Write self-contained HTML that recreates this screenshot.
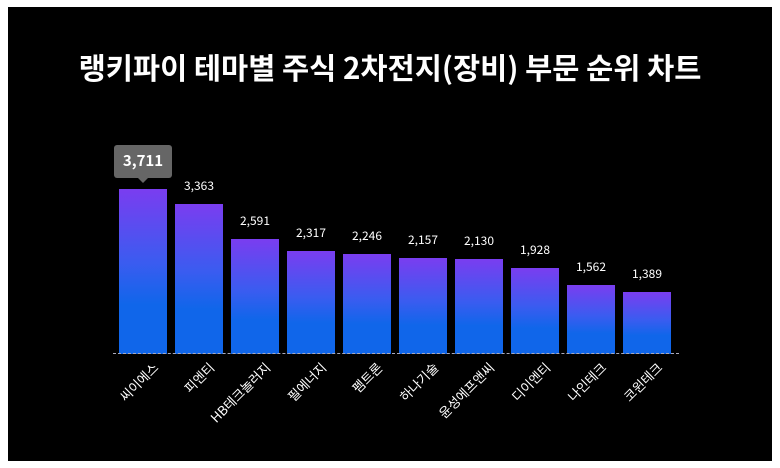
<!DOCTYPE html>
<html><head><meta charset="utf-8"><style>
body{margin:0;background:#fff;width:780px;height:468px;position:relative;overflow:hidden;font-family:"Noto Sans CJK KR","Liberation Sans",sans-serif}
#bg{position:absolute;left:8px;top:7px;width:764px;height:454px;background:#000}
.t{position:absolute;left:0;width:780px;top:46px;text-align:center;color:#fff;font-size:29.5px;font-weight:bold;line-height:42px}
.bar{position:absolute;width:48px;background:linear-gradient(#7a3df0,#3a5cf0 45%,#1066ea 70%,#1066ea)}
.v{position:absolute;width:80px;text-align:center;color:#fff;font-size:12px;line-height:16px}
.l{position:absolute;color:#fff;font-size:13px;line-height:14px;white-space:nowrap;transform-origin:100% 0;transform:rotate(-45deg)}
#base{position:absolute;left:113px;width:566px;top:353px;border-top:1px dashed #aab}
#tip{position:absolute;left:114px;top:145px;width:58px;height:33px;background:#666;border-radius:3px;color:#fff;font-weight:bold;font-size:15px;text-align:center;line-height:31px}
#tip:after{content:"";position:absolute;left:24px;bottom:-5px;border:5px solid transparent;border-top-color:#666;border-bottom:0}
</style></head><body>
<div id="bg"></div>
<div class="t">랭키파이 테마별 주식 2차전지(장비) 부문 순위 차트</div>
<div id="tip">3,711</div>
<div id="c"></div>
<div id="base"></div>
<script>
var d=[["씨이에스",3711],["피엔티",3363],["HB테크놀러지",2591],["필에너지",2317],["펨트론",2246],["하나기술",2157],["윤성에프앤씨",2130],["디이엔티",1928],["나인테크",1562],["코윈테크",1389]];
var h="";d.forEach(function(e,i){var x=119+i*56,ht=e[1]/3711*165,top=354-ht;
h+='<div class="bar" style="left:'+x+'px;top:'+top+'px;height:'+ht+'px"></div>';
if(i>0)h+='<div class="v" style="left:'+(x-16)+'px;top:'+(top-26)+'px">'+e[1].toLocaleString("en-US")+'</div>';
h+='<div class="l" style="right:'+(780-x-32)+'px;top:360px">'+e[0]+'</div>';});
document.getElementById("c").innerHTML=h;
</script>
</body></html>
